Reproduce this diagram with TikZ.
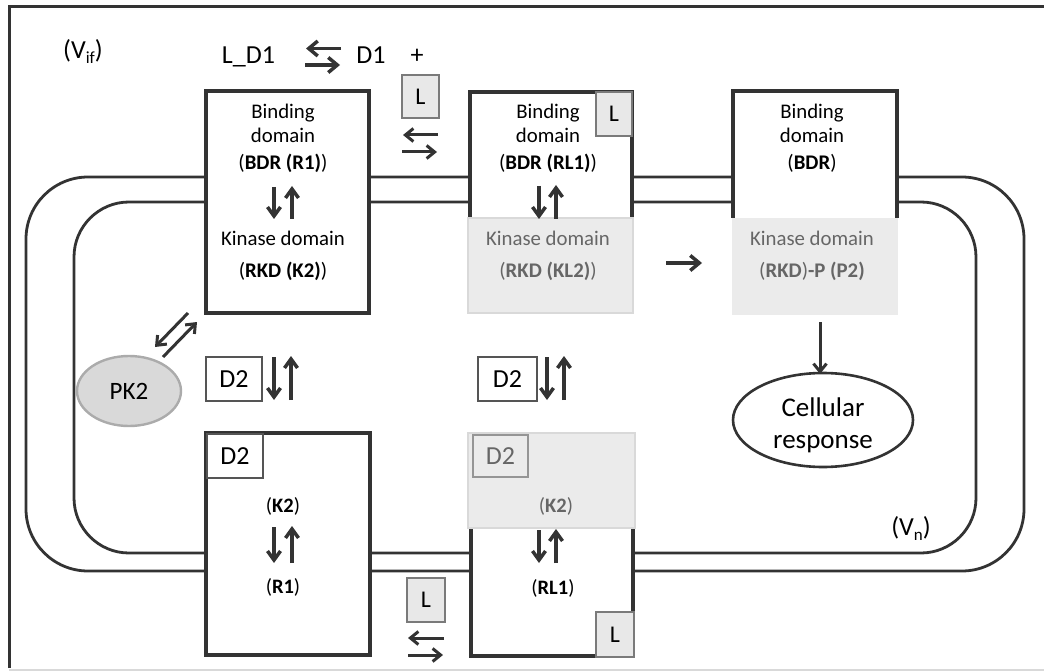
\documentclass[tikz,border=0pt]{standalone}
\usepackage{fontspec}
\setmainfont{Carlito}
\usetikzlibrary{arrows.meta,shapes.geometric}
\definecolor{dk}{HTML}{333333}
\definecolor{kfill}{HTML}{EBEBEB}
\definecolor{kline}{HTML}{D9D9D9}
\definecolor{gtxt}{HTML}{666666}
\definecolor{lfill}{HTML}{E8E8E8}
\definecolor{lline}{HTML}{7A7A7A}
\definecolor{pkfill}{HTML}{D9D9D9}
\definecolor{pkline}{HTML}{ABABAB}
\definecolor{dline}{HTML}{555555}
\newcommand{\lowsub}[1]{\raisebox{-5pt}{\fontsize{17}{20}\selectfont #1}}
\begin{document}
\begin{tikzpicture}[x=1pt,y=-1pt,
  every node/.style={inner sep=0pt, outer sep=0pt},
  t/.style={font=\fontsize{20.8}{24}\selectfont, anchor=base},
  tg/.style={t, text=gtxt},
  tb/.style={font=\fontsize{26}{30}\selectfont, anchor=base},
  tl/.style={font=\fontsize{24}{28}\selectfont},
  ts/.style={font=\fontsize{20.5}{24}\selectfont, anchor=base},
  boxline/.style={draw=dk, line width=3.6pt},
  mem/.style={draw=dk, line width=2.8pt},
  harr/.style={draw=dk, line width=3pt, -{Straight Barb[length=8pt,width=13pt]}},
  barr/.style={draw=dk, line width=3.5pt, -{Straight Barb[length=9pt,width=15pt]}},
  varr/.style={draw=dk, line width=3.5pt, -{Straight Barb[length=9pt,width=13pt]}},
  lbox/.style={draw=lline, fill=lfill, line width=1.5pt, tl},
  dbox/.style={draw=dline, fill=white, line width=1.6pt, font=\fontsize{26}{30}\selectfont}]
\useasboundingbox (0,0) rectangle (1044,671);
% frame
\draw[dk, line width=3pt] (9,668) -- (9,7) -- (1044,7);
\draw[color=black!15, line width=1.5pt] (9,670) -- (1044,670);
% membrane
\draw[mem] (26,177) [rounded corners=62pt] rectangle (1024,571);
\draw[mem] (74,202) [rounded corners=55pt] rectangle (976,553);
% ---- top-left box (R1)
\node[boxline, fill=white, minimum width=163pt, minimum height=222pt] (r1box) at (287.5,202) {};
\node[t] (r1a) at (283,118.5) {Binding};
\node[t] (r1b) at (283,143) {domain};
\node[t] (r1c) at (283,170) {(\textbf{BDR (R1)})};
\node[t] (r1d) at (283,246) {Kinase domain};
\node[t] (r1e) at (283,277) {(\textbf{RKD (K2)})};
\coordinate (a1) at (274,187); \coordinate (a2) at (274,219);
\coordinate (a3) at (292,219); \coordinate (a4) at (292,186);
\draw[varr] (a1) -- (a2); \draw[varr] (a3) -- (a4);
% ---- top-middle box (RL1)
\fill[white] (470,92) rectangle (632,218);
\draw[boxline] (470,218) -- (470,92) -- (632,92) -- (632,218);
\node[draw=kline, fill=kfill, line width=1.2pt, minimum width=165pt, minimum height=95pt] (kl2) at (550.5,265.5) {};
\node[lbox, minimum width=36pt, minimum height=44pt] (lin) at (614,114) {L};
\node[t] (rl1a) at (548,118.5) {Binding};
\node[t] (rl1b) at (548,143) {domain};
\node[t] (rl1c) at (548,170) {(\textbf{BDR (RL1)})};
\node[tg] (rl1d) at (548,246) {Kinase domain};
\node[tg] (rl1e) at (548,277) {(\textbf{RKD (KL2)})};
\coordinate (b1) at (539,186); \coordinate (b2) at (539,219);
\coordinate (b3) at (556,219); \coordinate (b4) at (556,185);
\draw[varr] (b1) -- (b2); \draw[varr] (b3) -- (b4);
% ---- top-right box (P2)
\fill[white] (733,91) rectangle (897,218);
\draw[boxline] (733,218) -- (733,91) -- (897,91) -- (897,218);
\node[fill=kfill, minimum width=166pt, minimum height=97pt] (p2) at (815,266.5) {};
\node[t] (p2a) at (812,118.5) {Binding};
\node[t] (p2b) at (812,143) {domain};
\node[t] (p2c) at (812,170) {(\textbf{BDR})};
\node[tg] (p2d) at (812,246) {Kinase domain};
\node[tg] (p2e) at (812,277) {(\textbf{RKD})\textbf{-P (P2)}};
% arrow KL2 -> P2
\coordinate (c1) at (666,263); \coordinate (c2) at (702,263);
\draw[barr] (c1) -- (c2);
% cellular response
\node[draw=dk, line width=2.6pt, ellipse, minimum width=180pt, minimum height=94pt] (cell) at (823,420) {};
\node[font=\fontsize{27}{30}\selectfont, anchor=base] (cella) at (823,416) {Cellular};
\node[font=\fontsize{27}{30}\selectfont, anchor=base] (cellb) at (823,448) {response};
\coordinate (d1) at (820,322);
\draw[harr] (d1) -- ([yshift=-1pt]cell.north -| d1);
% V labels
\node[tb] (vif) at (83,59) {(V\lowsub{if})};
\node[tb] (vn) at (911,535) {(V\lowsub{n})};
% top: L_D1 <=> D1 + L
\node[tb] (ld1) at (248.5,64) {L\_D1};
\node[tb] (d1n) at (371,64) {D1};
\node[tb] (plus) at (417,64) {+};
\coordinate (e1) at (341,48.5); \coordinate (e2) at (306,48.5);
\coordinate (e3) at (305,65); \coordinate (e4) at (340,65);
\draw[barr] (e1) -- (e2); \draw[barr] (e3) -- (e4);
\node[lbox, minimum width=37pt, minimum height=43pt] (l1) at (420.5,96.5) {L};
\coordinate (f1) at (438,135); \coordinate (f2) at (403,135);
\coordinate (f3) at (402,152); \coordinate (f4) at (437,152);
\draw[harr] (f1) -- (f2); \draw[harr] (f3) -- (f4);
% PK2
\node[ellipse, draw=pkline, fill=pkfill, line width=2.4pt, minimum width=104pt, minimum height=70pt, font=\fontsize{25}{28}\selectfont] (pk2) at (129,391) {PK2};
\coordinate (g1) at (188,313); \coordinate (g2) at (155,347);
\coordinate (g3) at (163,357); \coordinate (g4) at (197,322);
\draw[harr] (g1) -- (g2); \draw[harr] (g3) -- (g4);
% D2 free boxes
\node[dbox, minimum width=56pt, minimum height=44pt] (d2a) at (234,379) {D2};
\coordinate (h1) at (274,357); \coordinate (h2) at (274,400);
\coordinate (h3) at (291,400); \coordinate (h4) at (291,356);
\draw[varr] (h1) -- (h2); \draw[varr] (h3) -- (h4);
\node[dbox, minimum width=59pt, minimum height=44pt] (d2b) at (507.5,379) {D2};
\coordinate (i1) at (547,357); \coordinate (i2) at (547,400);
\coordinate (i3) at (564,400); \coordinate (i4) at (564,356);
\draw[varr] (i1) -- (i2); \draw[varr] (i3) -- (i4);
% ---- bottom-left box
\node[boxline, fill=white, minimum width=164pt, minimum height=222pt] (bl) at (288,544) {};
\node[dbox, minimum width=56pt, minimum height=44pt, line width=1.4pt] (d2c) at (235,456) {D2};
\node[ts] (blk) at (283,512) {(\textbf{K2})};
\node[ts] (blr) at (283,593) {(\textbf{R1})};
\coordinate (j1) at (274,527); \coordinate (j2) at (274,563);
\coordinate (j3) at (292,563); \coordinate (j4) at (292,526);
\draw[varr] (j1) -- (j2); \draw[varr] (j3) -- (j4);
% ---- bottom-middle box
\fill[white] (471,528) rectangle (633,656);
\draw[boxline] (471,528) -- (471,656) -- (600,656);
\draw[boxline] (633,528) -- (633,656);
\node[draw=kline, fill=kfill, line width=1.2pt, minimum width=167pt, minimum height=95pt] (k2m) at (551.5,480.5) {};
\node[draw=lline!80, fill=kfill, line width=1.3pt, minimum width=55pt, minimum height=42pt, font=\fontsize{26}{30}\selectfont, text=gtxt] (d2d) at (500.5,456) {D2};
\node[ts, text=gtxt] (bmk) at (556,512) {(\textbf{K2})};
\node[ts] (bmr) at (553,594) {(\textbf{RL1})};
\coordinate (k1) at (539,530); \coordinate (k2) at (539,563);
\coordinate (k3) at (556,563); \coordinate (k4) at (556,529);
\draw[varr] (k1) -- (k2); \draw[varr] (k3) -- (k4);
\node[lbox, minimum width=38pt, minimum height=45pt] (lbm) at (615,634.5) {L};
% bottom L and arrows
\node[lbox, minimum width=38pt, minimum height=44pt] (l2) at (426,600) {L};
\coordinate (m1) at (444,638); \coordinate (m2) at (408,638);
\coordinate (m3) at (408,655); \coordinate (m4) at (443,655);
\draw[harr] (m1) -- (m2); \draw[harr] (m3) -- (m4);
\end{tikzpicture}
\end{document}
